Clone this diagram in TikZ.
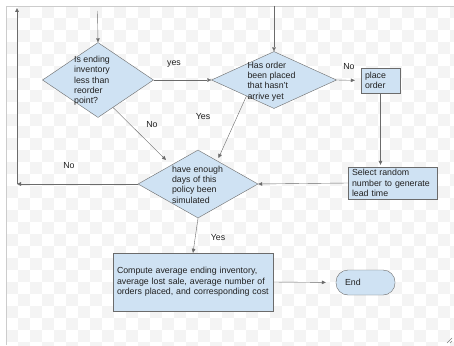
\documentclass[tikz,border=0pt]{standalone}
\usepackage{fontspec}
\setmainfont{Liberation Sans}
\usetikzlibrary{arrows.meta,shapes.geometric,calc}
\definecolor{boxC}{HTML}{CFE2F3}
\definecolor{lineC}{gray}{0.42}
\definecolor{chkC}{gray}{0.955}
\definecolor{frmC}{gray}{0.8}
\definecolor{txtC}{gray}{0.13}
\tikzset{
    decision/.style={diamond, draw=lineC, fill=boxC, inner sep=0pt},
    dtext/.style={align=left, inner sep=0pt, text=txtC, font=\fontsize{8.8}{10.3}\selectfont},
    process/.style={rectangle, draw=lineC, fill=boxC, align=left, inner xsep=4pt, inner ysep=0pt,
        text=txtC, font=\fontsize{8.8}{10.3}\selectfont},
    terminal/.style={process, rounded corners=12pt, inner xsep=9pt},
    arr/.style={draw=lineC, -{Triangle[length=4pt,width=3.6pt]}},
    lbl/.style={text=txtC, inner sep=0pt, font=\fontsize{8.8}{10.3}\selectfont}
}

\begin{document}
\begin{tikzpicture}[x=1pt,y=-1pt]
\useasboundingbox (0,0) rectangle (454,345);
% canvas
\fill[white] (0,0) rectangle (454,345);
\foreach \i in {0,...,37}{
  \foreach \j in {0,...,28}{
    \pgfmathparse{int(mod(\i+\j,2))}
    \ifnum\pgfmathresult=1
      \fill[chkC] (6+12*\i,6+12*\j) rectangle ++(12,12);
    \fi
  }
}
\draw[frmC] (6,345) -- (6,6) -- (454,6);
\draw[gray] (447,343) -- (452,338) (450,343) -- (452,341);

% nodes
\node[decision, minimum width=111, minimum height=75] (d1) at (98,80) {};
\node[dtext] (d1t) at (92,81) {Is ending\\inventory\\less than\\reorder\\point?};
\node[decision, minimum width=125, minimum height=57] (d2) at (274,80) {};
\node[dtext] (d2t) at (271.5,81.5) {Has order\\been placed\\that hasn't\\arrive yet};
\node[decision, minimum width=120, minimum height=68] (d3) at (198,184) {};
\node[dtext] (d3t) at (197.5,184.5) {have enough\\days of this\\policy been\\simulated};
\node[process, minimum height=25, text width=31] (ord) at (380.5,80.5) {place\\order};
\node[process, minimum height=32, text width=81] (sel) at (392.5,183) {Select random\\number to generate\\lead time};
\node[process, minimum height=58, text width=152] (cmp) at (193,282) {Compute average ending inventory,\\average lost sale, average number of\\orders placed, and corresponding cost};
\node[terminal, minimum height=25, text width=41] (end) at (365.5,282.5) {End};

\coordinate (top1) at (97.5,11);
\coordinate (top2) at (274,6);
\coordinate (cL) at (17,184);
\coordinate (cT) at (17,8);
\coordinate (noEnd) at (166,160);

% connectors
\draw[arr] (top1) -- (d1.north);
\draw[arr] (top2) -- (d2.north);
\draw[arr] (d1.east) -- (d2.west);
\draw[arr, shorten >=6pt] (d2.east) -- (ord.west);
\draw[arr, shorten >=2pt] (ord.south) -- (ord.south |- sel.north);
\draw[arr] (sel.west) -- (d3.east);
\draw[arr] ($(d1.south)!0.27!(d1.east)$) -- (noEnd);
\draw[arr, shorten >=3pt] ($(d2.west)!0.56!(d2.south)$) -- ($(d3.north)!0.32!(d3.east)$);
\draw[arr] (d3.west) -- (cL);
\draw[arr] (cL) -- (cT);
\draw[arr] (d3.south) -- (cmp.north);
\draw[arr, shorten >=10pt] (cmp.east) -- (end.west);

% labels
\node[lbl] (lyes1) at (174,64) {yes};
\node[lbl] (lno1) at (349,67) {No};
\node[lbl] (lno2) at (152,125) {No};
\node[lbl] (lyes2) at (203,117) {Yes};
\node[lbl] (lno3) at (69,166) {No};
\node[lbl] (lyes3) at (218,238) {Yes};
\end{tikzpicture}
\end{document}
